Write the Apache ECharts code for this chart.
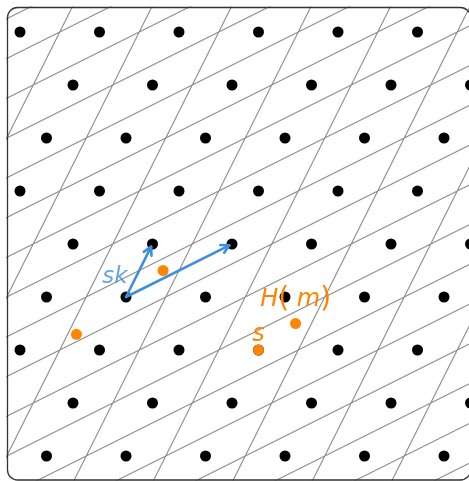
<!DOCTYPE html>
<html><head><meta charset="utf-8">
<script src="https://cdn.jsdelivr.net/npm/echarts@6/dist/echarts.min.js"></script>
<style>html,body{margin:0;padding:0;background:#fff}#c{width:469px;height:481px}</style>
</head><body><div id="c"></div>
<script>
// lattice basis vectors
const basis1 = [1, 2];
const basis2 = [4, 2];
// lattice points, row by row (y value, then the x values in that row)
const latticeRowsY = [10, 8, 6, 4, 2, 0, -2, -4, -6];
const latticeRowsX = [
  [-4, -1, 2, 5, 8, 11],
  [-2, 1, 4, 7, 10, 13],
  [-3, 0, 3, 6, 9, 12],
  [-4, -1, 2, 5, 8, 11],
  [-2, 1, 4, 7, 10, 13],
  [-3, 0, 3, 6, 9, 12],
  [-4, -1, 2, 5, 8, 11],
  [-2, 1, 4, 7, 10, 13],
  [-3, 0, 3, 6, 9, 12]
];
// cell boundary offsets (half-integer multiples of the basis vectors)
const shallowOffsets = [-9.5,-8.5,-7.5,-6.5,-5.5,-4.5,-3.5,-2.5,-1.5,-0.5,0.5,1.5,2.5,3.5,4.5,5.5,6.5,7.5,8.5,9.5];
const steepOffsets = [-3.5,-2.5,-1.5,-0.5,0.5,1.5,2.5,3.5,4.5,5.5];
// arrows (secret key basis) from origin
const arrowOrigin = [0, 0];
const arrowTips = [basis1, basis2];
// orange points
const orangeX = [1.4, -1.87, 6.4, 5];
const orangeY = [1.0, -1.41, -1.0, -2];
// axis ranges
const xRange = [-4.4906, 12.9434];
const yRange = [-6.9057, 10.9434];

const GRAY = '#8c8c8c', BLUE = '#3d8fdb', ORANGE = '#ff8500';

const dots = [];
latticeRowsY.forEach((y, i) => latticeRowsX[i].forEach(x => dots.push([x, y])));

const gridLines = [];
shallowOffsets.forEach(t => {
  const p = [t * basis1[0], t * basis1[1]];
  gridLines.push([p[0] - 10 * basis2[0], p[1] - 10 * basis2[1]]);
  gridLines.push([p[0] + 10 * basis2[0], p[1] + 10 * basis2[1]]);
  gridLines.push(null);
});
steepOffsets.forEach(s => {
  const p = [s * basis2[0], s * basis2[1]];
  gridLines.push([p[0] - 12 * basis1[0], p[1] - 12 * basis1[1]]);
  gridLines.push([p[0] + 12 * basis1[0], p[1] + 12 * basis1[1]]);
  gridLines.push(null);
});

const arrowData = arrowTips.map(t => [arrowOrigin[0], arrowOrigin[1], t[0], t[1]]);
const orangeData = orangeX.map((x, i) => [x, orangeY[i]]);

const chart = echarts.init(document.getElementById('c'), null, {renderer: 'canvas'});
const font = '"DejaVu Sans", sans-serif';
chart.setOption({
  animation: false,
  backgroundColor: '#fff',
  grid: {left: 7, top: 7, width: 462, height: 473},
  xAxis: {type: 'value', min: xRange[0], max: xRange[1], show: false, splitLine: {show: false}},
  yAxis: {type: 'value', min: yRange[0], max: yRange[1], show: false, splitLine: {show: false}},
  series: [
    {
      type: 'line', data: gridLines, connectNulls: false, clip: true, symbol: 'none',
      lineStyle: {color: GRAY, width: 1.1}, silent: true, z: 1
    },
    {
      type: 'scatter', data: dots, symbolSize: 11, clip: false,
      itemStyle: {color: '#000', opacity: 1}, z: 2
    },
    {
      type: 'custom', z: 3, clip: false,
      data: arrowData,
      renderItem: function (params, api) {
        const a = api.coord([api.value(0), api.value(1)]);
        const b0 = api.coord([api.value(2), api.value(3)]);
        const dx = b0[0] - a[0], dy = b0[1] - a[1];
        const len = Math.sqrt(dx * dx + dy * dy);
        const ux = dx / len, uy = dy / len;
        const b = [b0[0] - ux * 3, b0[1] - uy * 3];
        const ang = Math.atan2(uy, ux);
        const L = 9, th = 0.5;
        const p1 = [b[0] - L * Math.cos(ang - th), b[1] - L * Math.sin(ang - th)];
        const p2 = [b[0] - L * Math.cos(ang + th), b[1] - L * Math.sin(ang + th)];
        const st = {stroke: BLUE, lineWidth: 2.6, fill: null, lineCap: 'round', lineJoin: 'round'};
        return {
          type: 'group',
          children: [
            {type: 'polyline', shape: {points: [a, b]}, style: st},
            {type: 'polyline', shape: {points: [p1, b, p2]}, style: st}
          ]
        };
      }
    },
    {
      type: 'scatter', data: orangeData, symbolSize: 11, clip: false,
      itemStyle: {color: ORANGE, opacity: 1}, z: 4,
      label: {
        show: true, position: 'inside',
        formatter: function (p) {
          if (p.dataIndex === 2) return '{i|H}{n|(}{i| m}{n|)}';
          if (p.dataIndex === 3) return '{i|s}';
          return '';
        },
        rich: {
          i: {fontFamily: font, fontStyle: 'italic', fontSize: 24, color: ORANGE},
          n: {fontFamily: font, fontSize: 28, color: ORANGE}
        }
      },
      labelLayout: function (p) {
        if (p.dataIndex === 2) return {dx: 0, dy: -24};
        if (p.dataIndex === 3) return {dx: 0, dy: -15};
        return {};
      }
    },
    {
      type: 'scatter', data: [arrowOrigin], symbolSize: 0, clip: false, z: 5,
      label: {
        show: true, position: 'inside', formatter: 'sk',
        fontFamily: font, fontStyle: 'italic', fontSize: 23, color: BLUE,
        offset: [-11, -20]
      }
    }
  ],
  graphic: [{
    type: 'rect', z: 100, silent: true,
    shape: {x: 7.5, y: 7.5, width: 463, height: 472.5, r: 10},
    style: {fill: null, stroke: '#333', lineWidth: 1.3}
  }]
});
</script></body></html>
